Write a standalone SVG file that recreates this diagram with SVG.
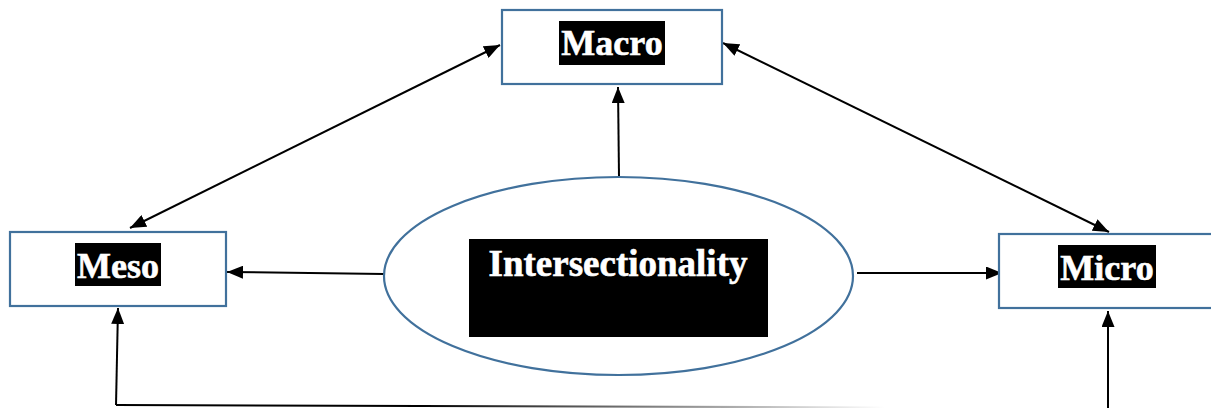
<svg xmlns="http://www.w3.org/2000/svg" width="1211" height="408" viewBox="0 0 1211 408">
  <style>
    .box { fill: #ffffff; stroke: #41719C; stroke-width: 2.2; }
    .lbl { fill: #000000; }
    .txt { font-family: "Liberation Serif", "Times New Roman", serif; font-weight: bold; font-size: 36px; fill: #ffffff; stroke: #ffffff; stroke-width: 0.6; text-anchor: middle; }
    .conn { stroke: #000000; stroke-width: 2; fill: none; }
  </style>
  <defs>
    <marker id="ah" viewBox="0 0 16 13" refX="16" refY="6.5" markerWidth="16" markerHeight="13" markerUnits="userSpaceOnUse" orient="auto-start-reverse">
      <path d="M0,0 L16,6.5 L0,13 Z" fill="#000000"/>
    </marker>
    <linearGradient id="fade" gradientUnits="userSpaceOnUse" x1="420" y1="0" x2="885" y2="0">
      <stop offset="0" stop-color="#000000" stop-opacity="1"/>
      <stop offset="1" stop-color="#000000" stop-opacity="0"/>
    </linearGradient>
  </defs>

  <g id="connectors">
    <line class="conn" x1="619" y1="177" x2="618" y2="87" marker-end="url(#ah)"/>
    <line class="conn" x1="130" y1="228" x2="500" y2="45" marker-start="url(#ah)" marker-end="url(#ah)"/>
    <line class="conn" x1="723" y1="43" x2="1109" y2="232" marker-start="url(#ah)" marker-end="url(#ah)"/>
    <line class="conn" x1="384" y1="274" x2="227" y2="272" marker-end="url(#ah)"/>
    <line class="conn" x1="857" y1="273" x2="1002" y2="273" marker-end="url(#ah)"/>
    <line class="conn" x1="1108" y1="408" x2="1108" y2="311" marker-end="url(#ah)"/>
    <line class="conn" x1="116" y1="405" x2="118" y2="308" marker-end="url(#ah)"/>
    <line x1="116" y1="405" x2="420" y2="406" stroke="#000000" stroke-width="2"/>
    <line x1="420" y1="406" x2="885" y2="407.5" stroke="url(#fade)" stroke-width="2"/>
  </g>

  <g id="macro">
    <rect class="box" x="502" y="10" width="220" height="74"/>
    <rect class="lbl" x="559" y="21" width="106" height="44"/>
    <text class="txt" x="612" y="55">Macro</text>
  </g>

  <g id="meso">
    <rect class="box" x="10" y="232" width="216" height="74"/>
    <rect class="lbl" x="75" y="243" width="86" height="43"/>
    <text class="txt" x="118" y="278">Meso</text>
  </g>

  <g id="micro">
    <rect class="box" x="999" y="234" width="220" height="74"/>
    <rect class="lbl" x="1058" y="245" width="98" height="43"/>
    <text class="txt" x="1107" y="280">Micro</text>
  </g>

  <g id="intersectionality">
    <ellipse class="box" cx="618.5" cy="276" rx="234.5" ry="99"/>
    <rect class="lbl" x="469" y="239" width="299" height="98"/>
    <text class="txt" x="618" y="276" style="font-size:37px">Intersectionality</text>
  </g>
</svg>
